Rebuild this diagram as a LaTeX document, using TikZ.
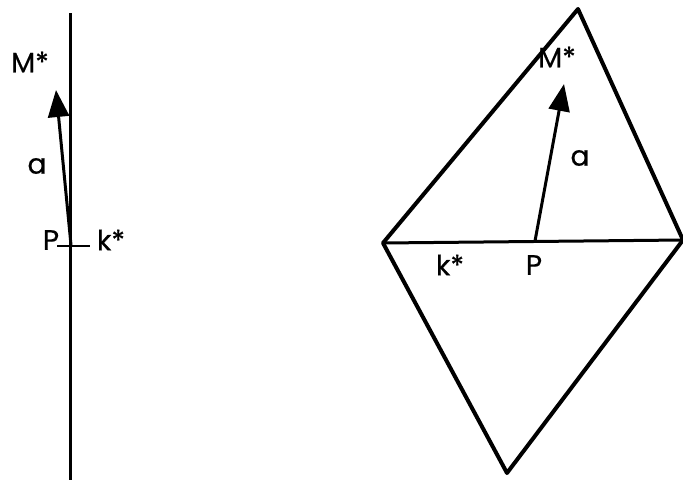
\documentclass[tikz,border=0pt]{standalone}
\usepackage{fontspec}
\setmainfont{Poppins}[FakeBold=0.6]
\usetikzlibrary{arrows.meta}
\begin{document}
\begin{tikzpicture}[x=1pt,y=-1pt,
  lbl/.style={font=\fontsize{28}{30}\selectfont,inner sep=0pt},
  vec/.style={line width=3pt,-{Triangle[length=27pt,width=21pt]}}]
  \useasboundingbox (0,0) rectangle (683,480);
  % Left: line k* with tick at P
  \coordinate (ktop) at (70,13);
  \coordinate (kbot) at (70,480);
  \coordinate (P1) at (71,245);
  \coordinate (M1) at (56,90);
  \draw[line width=3pt] (ktop) -- (kbot);
  \draw[line width=2.5pt] (57,246) -- (90,246);
  \draw[vec] (P1) -- (M1);
  \node[lbl] (m1) at (30,62) {M*};
  \node[lbl] (a1) at (37,166) {a};
  \node[lbl] (p1) at (51,240) {P};
  \node[lbl] (k1) at (111,240) {k*};
  % Right: rhombus cut by k*
  \coordinate (T) at (578,9);
  \coordinate (L) at (383,243);
  \coordinate (R) at (683,240);
  \coordinate (B) at (507,473);
  \coordinate (P2) at (535,241);
  \coordinate (M2) at (564,84);
  \draw[line width=4pt,line join=round] (L) -- (T) -- (R) -- (B) -- cycle;
  \draw[line width=3pt] (L) -- (R);
  \draw[vec] (P2) -- (M2);
  \node[lbl] (m2) at (557,57) {M*};
  \node[lbl] (a2) at (580,158) {a};
  \node[lbl] (k2) at (450,265) {k*};
  \node[lbl] (p2) at (534,265) {P};
\end{tikzpicture}
\end{document}
